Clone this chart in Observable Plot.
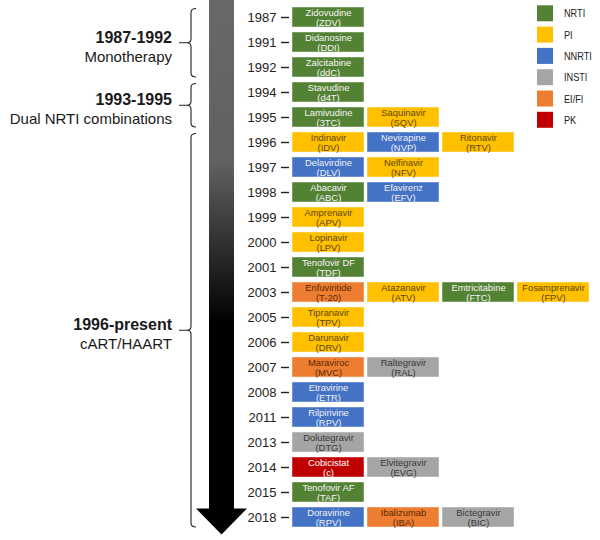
<!DOCTYPE html>
<html>
<head>
<meta charset="utf-8">
<script src="https://cdn.jsdelivr.net/npm/d3@7"></script>
<script src="https://cdn.jsdelivr.net/npm/@observablehq/plot@0.6"></script>
<style>
  html, body { margin: 0; padding: 0; background: #fff; }
  #chart { width: 600px; height: 540px; }
</style>
</head>
<body>
<div id="chart"></div>
<script>
// ---- data ----
const years = ["1987","1991","1992","1994","1995","1996","1997","1998","1999","2000","2001","2003","2005","2006","2007","2008","2011","2013","2014","2015","2018"];

const drugYears   = ["1987","1991","1992","1994","1995","1995","1996","1996","1996","1997","1997","1998","1998","1999","2000","2001","2003","2003","2003","2003","2005","2006","2007","2007","2008","2011","2013","2014","2014","2015","2018","2018","2018"];
const drugNames   = ["Zidovudine","Didanosine","Zalcitabine","Stavudine","Lamivudine","Saquinavir","Indinavir","Nevirapine","Ritonavir","Delavirdine","Nelfinavir","Abacavir","Efavirenz","Amprenavir","Lopinavir","Tenofovir DF","Enfuviritide","Atazanavir","Emtricitabine","Fosamprenavir","Tipranavir","Darunavir","Maraviroc","Raltegravir","Etravirine","Rilpirivine","Dolutegravir","Cobicistat","Elvitegravir","Tenofovir AF","Doravirine","Ibalizumab","Bictegravir"];
const drugAbbrs   = ["ZDV","DDI","ddC","d4T","3TC","SQV","IDV","NVP","RTV","DLV","NFV","ABC","EFV","APV","LPV","TDF","T-20","ATV","FTC","FPV","TPV","DRV","MVC","RAL","ETR","RPV","DTG","c","EVG","TAF","RPV","IBA","BIC"];
const drugClasses = ["NRTI","NRTI","NRTI","NRTI","NRTI","PI","PI","NNRTI","PI","NNRTI","PI","NRTI","NNRTI","PI","PI","NRTI","EI/FI","PI","NRTI","PI","PI","PI","EI/FI","INSTI","NNRTI","NNRTI","INSTI","PK","INSTI","NRTI","NNRTI","EI/FI","INSTI"];

const classNames  = ["NRTI","PI","NNRTI","INSTI","EI/FI","PK"];
const classColors = ["#548235","#ffc000","#4472c4","#a5a5a5","#ed7d31","#c00000"];
const classText   = ["#f4f4f4","#5e4600","#f0f0f8","#3a3a3a","#5a2a06","#ffffff"];

const periodLabels = ["1987-1992","1993-1995","1996-present"];
const periodSubs   = ["Monotherapy","Dual NRTI combinations","cART/HAART"];
const periodFrom   = ["1987","1994","1996"];
const periodTo     = ["1992","1995","2018"];

// ---- build table ----
const seen = {};
const drugs = drugNames.map((name, i) => {
  const y = drugYears[i];
  const col = seen[y] = (seen[y] === undefined ? 0 : seen[y] + 1);
  return {year: y, col, name, abbr: drugAbbrs[i], cls: drugClasses[i],
          label: name + "\n(" + drugAbbrs[i] + ")"};
});
const textColor = Object.fromEntries(classNames.map((c, i) => [c, classText[i]]));

const font = "'Liberation Sans', Arial, sans-serif";

const textMarks = [...new Set(classText)].map(tc =>
  Plot.text(drugs.filter(d => textColor[d.cls] === tc), {
    x: "col", y: "year", text: "label", fill: tc,
    fontSize: 9.4, lineHeight: 1.13, fontFamily: font
  })
);

const plot = Plot.plot({
  width: 600,
  height: 540,
  marginLeft: 289,
  marginRight: 8,
  marginTop: 1,
  marginBottom: 8,
  style: {fontFamily: font, fontSize: "13px", color: "#222", background: "#fff"},
  x: {domain: [0,1,2,3], axis: null, paddingInner: 0.04, paddingOuter: 0.02},
  y: {domain: years, paddingInner: 0.2, paddingOuter: 0, tickSize: 8, tickPadding: 5, label: null},
  color: {type: "ordinal", domain: classNames, range: classColors},
  marks: [
    Plot.cell(drugs, {x: "col", y: "year", fill: "cls", stroke: "#ffffff", strokeOpacity: 0.55, strokeWidth: 0.8}),
    ...textMarks
  ]
});

document.getElementById("chart").appendChild(plot);

// ---- decorations using the plot's own scales ----
const svg = d3.select(plot);
const ys = plot.scale("y");
const bw = ys.bandwidth;
const ycol = ys.apply.bind(ys);

svg.selectAll("[aria-label='y-axis tick'] path, [aria-label='y-axis'] line").attr("stroke-width", 1.4);

const defs = svg.append("defs");
const grad = defs.append("linearGradient")
  .attr("id", "arrowGrad").attr("gradientUnits", "userSpaceOnUse")
  .attr("x1", 0).attr("y1", 0).attr("x2", 0).attr("y2", 540);
grad.append("stop").attr("offset", 0).attr("stop-color", "#686868");
grad.append("stop").attr("offset", 0.3).attr("stop-color", "#616161");
grad.append("stop").attr("offset", 0.6).attr("stop-color", "#000");
grad.append("stop").attr("offset", 1).attr("stop-color", "#000");

const lastTop = ycol(years[years.length - 1]);
const ax = 221.5, shaftHalf = 12.5, headHalf = 25.5;
const g = svg.append("g").attr("text-anchor", "start");
g.append("rect")
  .attr("x", ax - shaftHalf).attr("y", 0)
  .attr("width", shaftHalf * 2).attr("height", lastTop + 2)
  .attr("fill", "url(#arrowGrad)");
g.append("path")
  .attr("d", `M${ax - headHalf},${lastTop + 1.5} L${ax + headHalf},${lastTop + 1.5} L${ax},${lastTop + 27.5} Z`)
  .attr("fill", "#000");

// brackets + period labels
const bx = 191, br = 196, bt = 179;
periodLabels.forEach((lab, i) => {
  const top = ycol(periodFrom[i]) + 1.5;
  const bot = ycol(periodTo[i]) + bw;
  const mid = (top + bot) / 2;
  g.append("path")
    .attr("d", `M${br},${top} Q${bx},${top} ${bx},${top + 4} L${bx},${mid - 4} Q${bx},${mid} ${bx - 4},${mid} L${bt},${mid} M${bx - 4},${mid} Q${bx},${mid} ${bx},${mid + 4} L${bx},${bot - 4} Q${bx},${bot} ${br},${bot}`)
    .attr("fill", "none").attr("stroke", "#222").attr("stroke-width", 1.1);
  g.append("text")
    .attr("x", 172).attr("y", mid).attr("text-anchor", "end")
    .attr("font-family", font).attr("font-size", 16).attr("font-weight", "bold").attr("fill", "#1a1a1a")
    .text(lab);
  g.append("text")
    .attr("x", 172).attr("y", mid + 19).attr("text-anchor", "end")
    .attr("font-family", font).attr("font-size", 15).attr("fill", "#1a1a1a")
    .text(periodSubs[i]);
});

// legend
const color = plot.scale("color");
const lg = svg.append("g").attr("text-anchor", "start");
color.domain.forEach((c, i) => {
  const cy = 13.3 + i * 21.3;
  lg.append("rect").attr("x", 537).attr("y", cy - 8).attr("width", 16).attr("height", 16)
    .attr("fill", color.apply(c));
  lg.append("text")
    .attr("transform", `translate(564,${cy}) scale(0.79,1)`)
    .attr("dy", "0.35em").attr("text-anchor", "start")
    .attr("font-family", font).attr("font-size", 11.6).attr("fill", "#222").text(c);
});
</script>
</body>
</html>
